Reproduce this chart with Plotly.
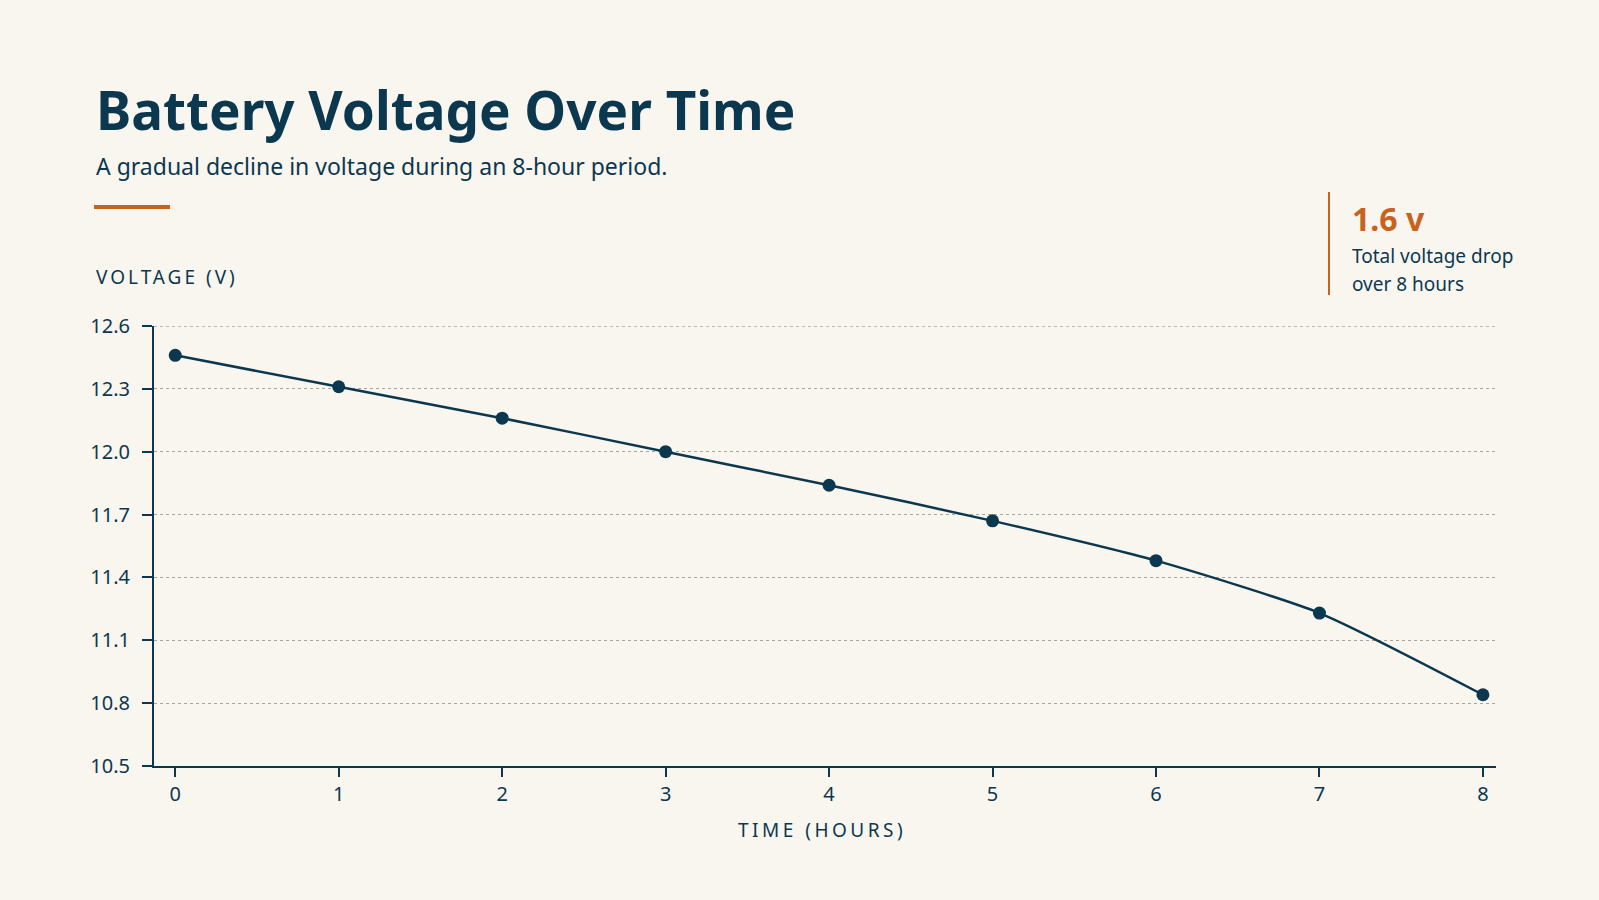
import plotly.graph_objects as go

hours = [0, 1, 2, 3, 4, 5, 6, 7, 8]
voltage = [12.46, 12.31, 12.16, 12.00, 11.84, 11.67, 11.48, 11.23, 10.84]
y_ticks = [10.5, 10.8, 11.1, 11.4, 11.7, 12.0, 12.3, 12.6]
y_tick_labels = ["10.5", "10.8", "11.1", "11.4", "11.7", "12.0", "12.3", "12.6"]

NAVY = "#0c384f"
ORANGE = "#c8631d"
BG = "#f9f6f0"
GRID = "#aaa59c"
FONT = "Noto Sans"

W, H = 1599, 900
L, R, T, B = 154, 1496, 326, 766

def px(x):
    return (x - L) / (R - L)

def py(y):
    return (B - y) / (B - T)

fig = go.Figure()
fig.add_trace(go.Scatter(
    x=hours, y=voltage, mode="lines+markers",
    line=dict(color=NAVY, width=2.5, shape="spline", smoothing=0.6),
    marker=dict(color=NAVY, size=13),
    hoverinfo="x+y", showlegend=False,
))

fig.update_layout(
    width=W, height=H,
    paper_bgcolor=BG, plot_bgcolor=BG,
    margin=dict(l=L, r=W - R, t=T, b=H - B, pad=0),
    font=dict(family=FONT, color=NAVY),
    xaxis=dict(
        range=[-0.13, 8.08], tickmode="array", tickvals=hours,
        ticktext=[str(h) for h in hours],
        showgrid=False, zeroline=False,
        showline=True, linecolor=NAVY, linewidth=2,
        ticks="outside", ticklen=9, tickwidth=2, tickcolor=NAVY,
        tickfont=dict(size=20, color=NAVY, family=FONT),
        ticklabelstandoff=0,
    ),
    yaxis=dict(
        range=[10.5, 12.6], tickmode="array", tickvals=y_ticks,
        ticktext=y_tick_labels,
        showgrid=True, gridcolor=GRID, griddash="dot", gridwidth=1.3,
        zeroline=False,
        showline=True, linecolor=NAVY, linewidth=2,
        ticks="outside", ticklen=10, tickwidth=2, tickcolor=NAVY,
        tickfont=dict(size=20, color=NAVY, family=FONT),
        ticklabelstandoff=8,
    ),
)

annotations = [
    dict(text="<b>Battery Voltage Over Time</b>", x=px(94), y=py(110),
         xanchor="left", yanchor="middle", font=dict(size=53, color=NAVY, family=FONT)),
    dict(text="A gradual decline in voltage during an 8-hour period.", x=px(94), y=py(166),
         xanchor="left", yanchor="middle", font=dict(size=23, color=NAVY, family=FONT)),
    dict(text='<span style="letter-spacing:3px">VOLTAGE (V)</span>', x=px(94), y=py(277),
         xanchor="left", yanchor="middle", font=dict(size=19, color=NAVY, family=FONT)),
    dict(text='<span style="letter-spacing:3.5px">TIME (HOURS)</span>', x=px(822), y=py(830),
         xanchor="center", yanchor="middle", font=dict(size=19, color=NAVY, family=FONT)),
    dict(text="<b>1.6 v</b>", x=px(1350), y=py(218),
         xanchor="left", yanchor="middle", font=dict(size=32, color=ORANGE, family=FONT)),
    dict(text="Total voltage drop", x=px(1350), y=py(256),
         xanchor="left", yanchor="middle", font=dict(size=19, color=NAVY, family=FONT)),
    dict(text="over 8 hours", x=px(1350), y=py(284),
         xanchor="left", yanchor="middle", font=dict(size=19, color=NAVY, family=FONT)),
]
for a in annotations:
    a.update(xref="paper", yref="paper", showarrow=False)
fig.update_layout(annotations=annotations)

# top gridline (at the upper edge of the plot area)
fig.add_shape(type="line", xref="paper", yref="y",
              x0=0, x1=1, y0=y_ticks[-1], y1=y_ticks[-1],
              line=dict(color=GRID, width=1.3, dash="dot"), layer="below")
fig.add_shape(type="line", xref="paper", yref="paper",
              x0=px(94), x1=px(170), y0=py(207), y1=py(207),
              line=dict(color=ORANGE, width=4))
fig.add_shape(type="line", xref="paper", yref="paper",
              x0=px(1329), x1=px(1329), y0=py(192), y1=py(295),
              line=dict(color=ORANGE, width=2))

fig.write_html("out.html")
